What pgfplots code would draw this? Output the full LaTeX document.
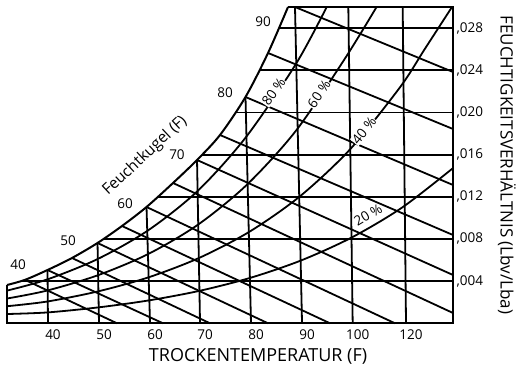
\documentclass[border=0pt]{standalone}
\usepackage{fontspec}
\setmainfont{Open Sans}
\usepackage{pgfplots}
\pgfplotsset{compat=1.18}
\begin{document}
\begin{tikzpicture}[g/.style={black, line width=1.8pt}]
\begin{axis}[
 scale only axis, width=446pt, height=316.3pt,
 xmin=32, xmax=119.5, ymin=0, ymax=0.030,
 clip=false,
 axis line style={draw=none},
 major tick length=0pt,
 xtick={40.04,50.05,60.06,69.87,79.87,89.88,99.82,110.28},
 xticklabels={40,50,60,70,80,90,100,120},
 ytick={0.004,0.008,0.012,0.016,0.020,0.024,0.028},
 yticklabels={{,004},{,008},{,012},{,016},{,020},{,024},{,028}},
 yticklabel pos=right,
 scaled y ticks=false,
 ticklabel style={font=\fontsize{13.5}{14}\selectfont},
 xticklabel style={xshift=5pt, yshift=-3pt},
 /pgf/number format/assume math mode=true,
]
\coordinate (O) at (rel axis cs:0,0);
% humidity ratio lines
\addplot[g] coordinates {(34.66,0.004) (119.5,0.004)};
\addplot[g] coordinates {(50.9,0.008) (119.5,0.008)};
\addplot[g] coordinates {(61.58,0.012) (119.5,0.012)};
\addplot[g] coordinates {(70.25,0.016) (119.5,0.016)};
\addplot[g] coordinates {(76.76,0.020) (119.5,0.020)};
\addplot[g] coordinates {(81.47,0.024) (119.5,0.024)};
\addplot[g] coordinates {(85.33,0.028) (119.5,0.028)};
% dry bulb lines
\addplot[g] coordinates {(40.04,0) (39.95,0.005055)};
\addplot[g] coordinates {(50.05,0) (49.76,0.007617)};
\addplot[g] coordinates {(60.06,0) (59.37,0.011031)};
\addplot[g] coordinates {(69.87,0) (69.28,0.015489)};
\addplot[g] coordinates {(79.87,0) (78.79,0.021465)};
\addplot[g] coordinates {(89.88,0) (88.5,0.030)};
\addplot[g] coordinates {(99.82,0) (98.96,0.030)};
\addplot[g] coordinates {(110.28,0) (109.63,0.030)};
% wet bulb lines
\addplot[g] coordinates {(35.53,0.00412) (53.58,0)};
\addplot[g] coordinates {(39.95,0.005055) (62.61,0)};
\addplot[g] coordinates {(44.75,0.006194) (71.83,0)};
\addplot[g] coordinates {(49.76,0.007617) (83.21,0)};
\addplot[g] coordinates {(54.56,0.009229) (95.37,0)};
\addplot[g] coordinates {(59.37,0.011031) (108.12,0)};
\addplot[g] coordinates {(64.57,0.013307) (119.5,0.000977)};
\addplot[g] coordinates {(69.28,0.015489) (119.5,0.004581)};
\addplot[g] coordinates {(73.79,0.01786) (119.5,0.008375)};
\addplot[g] coordinates {(78.79,0.021465) (119.5,0.013118)};
\addplot[g] coordinates {(83.21,0.025638) (119.5,0.018429)};
\addplot[g] coordinates {(88.5,0.030) (119.5,0.023836)};
% relative humidity curves
\addplot[g, smooth] coordinates {(32,0.00310) (39.83,0.004149) (49.76,0.00609) (59.65,0.008804) (69.4,0.012551) (78.9,0.01767) (88.7,0.02461) (94.72,0.030)};
\addplot[g, smooth] coordinates {(32,0.00235) (39.88,0.003107) (49.82,0.004556) (59.74,0.00658) (69.5,0.009366) (79.1,0.013159) (88.7,0.018273) (98.3,0.02511) (104.5,0.030)};
\addplot[g, smooth] coordinates {(32,0.00162) (39.92,0.002068) (49.88,0.00303) (59.83,0.004371) (69.75,0.006213) (79.65,0.008711) (89.52,0.012064) (99.34,0.016518) (109.1,0.022385) (113.96,0.026014) (119.3,0.030)};
\addplot[g, smooth] coordinates {(32,0.00088) (39.96,0.001032) (49.94,0.001511) (59.91,0.002178) (69.88,0.003091) (79.83,0.004325) (89.76,0.005974) (99.67,0.008151) (109.56,0.010995) (119.5,0.01472)};
% saturation curve
\addplot[g, smooth, line width=2pt] coordinates {(32,0.003633) (35.53,0.00412) (39.95,0.005055) (44.75,0.006194) (49.76,0.007617) (54.56,0.009229) (59.37,0.011031) (64.57,0.013307) (69.28,0.015489) (73.79,0.01786) (78.79,0.021465) (83.21,0.025638) (87.13,0.030)};
% frame
\addplot[g, sharp plot, line width=2.4pt, line join=miter] coordinates {(87.13,0.030) (119.5,0.030) (119.5,0) (32,0) (32,0.003633)};
% labels
\begin{scope}[every node/.style={font=\fontsize{13.5}{14}\selectfont}]
\node at (axis cs:34.16,0.00553) {40};
\node at (axis cs:43.97,0.00781) {50};
\node at (axis cs:55.15,0.01132) {60};
\node at (axis cs:65.35,0.01596) {70};
\node at (axis cs:74.77,0.02184) {80};
\node at (axis cs:82.23,0.02858) {90};
\node[rotate=55, fill=white, inner sep=0.5pt] at (axis cs:84.3,0.02195) {80 \%};
\node[rotate=56, fill=white, inner sep=0.5pt] at (axis cs:93.2,0.02175) {60 \%};
\node[rotate=51, fill=white, inner sep=0.5pt] at (axis cs:102.04,0.01827) {40 \%};
\node[rotate=31] at (axis cs:102.83,0.01027) {20 \%};
\end{scope}
\node[rotate=43, font=\fontsize{15.5}{16}\selectfont] at (axis cs:59.07,0.01587) {Feuchtkugel (F)};
\node[anchor=base, font=\fontsize{18}{18}\selectfont] at (rel axis cs:0.563,-0.1214) {TROCKENTEMPERATUR (F)};
\node[rotate=-90, font=\fontsize{17}{18}\selectfont] at (rel axis cs:1.121,0.5005) {FEUCHTIGKEITSVERHÄLTNIS (Lbv/Lba)};
\end{axis}
\pgfresetboundingbox
\path[use as bounding box] ([shift={(-7pt,-42.7pt)}]O) rectangle ([shift={(509pt,323.3pt)}]O);
\end{tikzpicture}
\end{document}
